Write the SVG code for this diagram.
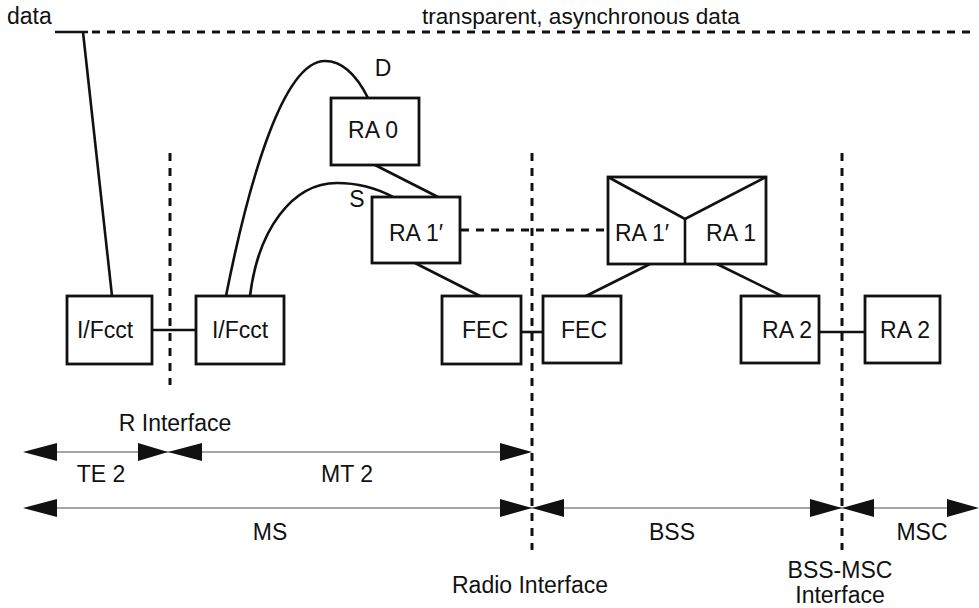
<svg xmlns="http://www.w3.org/2000/svg" width="979" height="608" viewBox="0 0 979 608">
<style>
text{font-family:"Liberation Sans",Arial,sans-serif;font-size:23px;fill:#111}
.c{text-anchor:middle}
.box{fill:#fff;stroke:#111;stroke-width:2.8}
.ln{stroke:#111;stroke-width:2.6;fill:none}
.dash{stroke:#111;stroke-width:2.8;fill:none;stroke-dasharray:8 7}
.vd{stroke:#111;stroke-width:3;fill:none;stroke-dasharray:8 7}
.dim{stroke:#888;stroke-width:1.6;fill:none}
.ah{fill:#111}
</style>
<rect width="979" height="608" fill="#fff"/>

<g id="interfaces">
<line class="vd" x1="170" y1="153" x2="170" y2="385"/>
<line class="vd" x1="532" y1="153" x2="532" y2="550"/>
<line class="vd" x1="842" y1="153" x2="842" y2="550"/>
</g>

<g id="connectors">
<line class="ln" x1="55" y1="32" x2="88" y2="32"/>
<line class="dash" x1="92" y1="32" x2="977" y2="32"/>
<line class="ln" x1="83" y1="32" x2="112" y2="296"/>
<path class="ln" d="M226,296 C245,200 280,61 325,61 C345,61 358,78 368,98"/>
<path class="ln" d="M250,296 C258,230 292,183 337,183 C362,183 380,190 393,197"/>
<line class="ln" x1="375" y1="165" x2="438" y2="197"/>
<line class="ln" x1="415" y1="263" x2="480" y2="296"/>
<line class="dash" x1="461" y1="230" x2="608" y2="230"/>
<line class="ln" x1="152" y1="330" x2="196" y2="330"/>
<line class="ln" x1="521" y1="332" x2="543" y2="332"/>
<line class="ln" x1="819" y1="332" x2="865" y2="332"/>
<line class="ln" x1="650" y1="264" x2="586" y2="296"/>
<line class="ln" x1="717" y1="264" x2="782" y2="296"/>
</g>

<g id="ifcct1"><rect class="box" x="67" y="296" width="85" height="68"/><text class="c" x="105" y="338">I/Fcct</text></g>
<g id="ifcct2"><rect class="box" x="196" y="296" width="88" height="68"/><text class="c" x="240" y="338">I/Fcct</text></g>
<g id="ra0"><rect class="box" x="331" y="98" width="88" height="67"/><text class="c" x="373" y="138">RA 0</text></g>
<g id="ra1p"><rect class="box" x="372" y="197" width="88" height="66"/><text class="c" x="416" y="241">RA 1′</text></g>
<g id="fec1"><rect class="box" x="442" y="296" width="79" height="68"/><text class="c" x="485" y="338">FEC</text></g>
<g id="fec2"><rect class="box" x="543" y="296" width="78" height="67"/><text class="c" x="584" y="338">FEC</text></g>
<g id="ra1combo">
<rect class="box" x="608" y="177" width="158" height="87"/>
<polyline class="ln" points="608,177 685,219 766,177"/>
<line class="ln" x1="685" y1="219" x2="685" y2="264"/>
<text class="c" x="642" y="241">RA 1′</text>
<text class="c" x="731" y="241">RA 1</text>
</g>
<g id="ra2a"><rect class="box" x="741" y="296" width="78" height="67"/><text class="c" x="787" y="338">RA 2</text></g>
<g id="ra2b"><rect class="box" x="865" y="296" width="75" height="67"/><text class="c" x="905" y="338">RA 2</text></g>

<g id="labels">
<text x="7" y="24">data</text>
<text x="422" y="24" style="font-size:22.6px">transparent, asynchronous data</text>
<text class="c" x="383" y="76">D</text>
<text class="c" x="357" y="207">S</text>
<text class="c" x="175" y="431">R Interface</text>
<text class="c" x="101" y="482">TE 2</text>
<text class="c" x="347" y="482">MT 2</text>
<text class="c" x="270" y="540">MS</text>
<text class="c" x="672" y="540">BSS</text>
<text class="c" x="922" y="540">MSC</text>
<text class="c" x="530" y="593">Radio Interface</text>
<text class="c" x="840" y="578">BSS-MSC</text>
<text class="c" x="840" y="603">Interface</text>
</g>

<g id="dimensions">
<line class="dim" x1="40" y1="452" x2="520" y2="452"/>
<polygon class="ah" points="23,452 57,443 57,461"/>
<polygon class="ah" points="168,452 138,443 138,461"/>
<polygon class="ah" points="168,452 202,443 202,461"/>
<polygon class="ah" points="532,452 500,443 500,461"/>
<line class="dim" x1="40" y1="508" x2="965" y2="508"/>
<polygon class="ah" points="23,508 57,499 57,517"/>
<polygon class="ah" points="532,508 500,499 500,517"/>
<polygon class="ah" points="532,508 564,499 564,517"/>
<polygon class="ah" points="842,508 810,499 810,517"/>
<polygon class="ah" points="842,508 874,499 874,517"/>
<polygon class="ah" points="979,508 947,499 947,517"/>
</g>
</svg>
